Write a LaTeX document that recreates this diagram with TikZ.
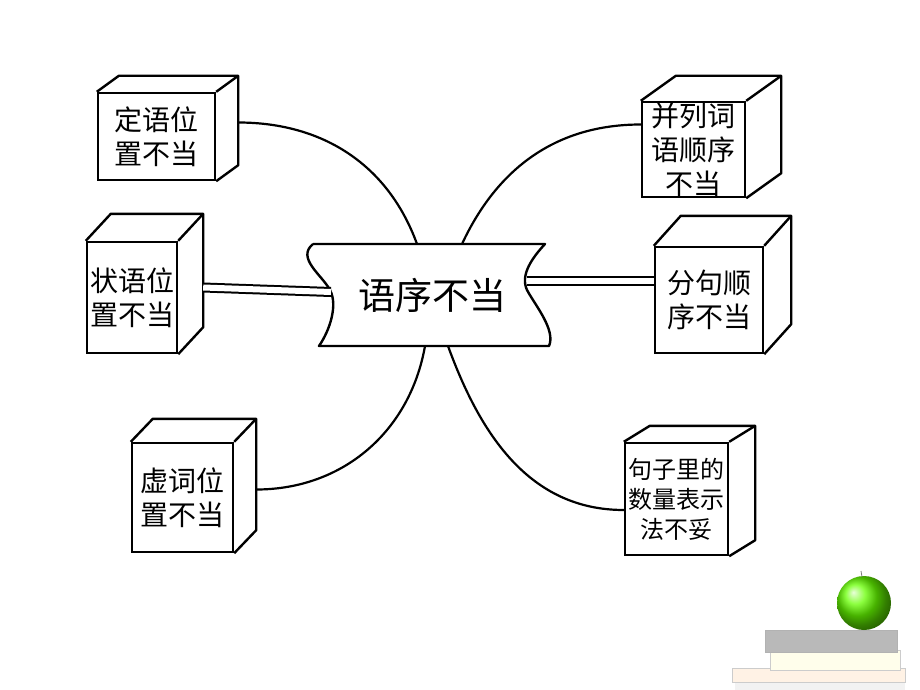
\documentclass[tikz,border=0pt]{standalone}
\usepackage{fontspec}
\newfontfamily\cjk{Noto Sans CJK SC}
\usetikzlibrary{positioning, calc}

\tikzset{
  box/.style = {draw, line width=2.4pt, fill=white, align=center, inner sep=0pt,
                font=\cjk\fontsize{28}{34}\selectfont},
  face/.style = {draw, line width=2.4pt, line join=round},
  link/.style = {line width=2.2pt},
  twin/.style = {draw, double, double distance=6pt, line width=2pt}
}

\begin{document}
\begin{tikzpicture}[x=1pt, y=-1pt]
  \useasboundingbox (0,0) rectangle (920,690);

  % centre
  \draw[face, fill=white] (313,244) -- (545,244)
        .. controls (532,258) and (520,275) .. (527,290)
        .. controls (535,305) and (556,330) .. (549,346)
        -- (319,346)
        .. controls (330,330) and (338,305) .. (330,290)
        .. controls (322,275) and (296,258) .. (313,244);
  \node (main) [font=\cjk\fontsize{37}{40}\selectfont] at (432,295) {语序不当};
  \coordinate (mainNW) at (417,244);
  \coordinate (mainNE) at (462,244);
  \coordinate (mainSW) at (425,346);
  \coordinate (mainSE) at (448,346);
  \coordinate (mainW)  at (331,292);
  \coordinate (mainE)  at (527,281);

  % boxes
  \node (dingyu)  [box, minimum width=117pt, minimum height=87pt]  at (156.5,136.5) {定语位\\置不当};
  \node (zhuangyu)[box, minimum width=90pt,  minimum height=111pt] at (132,297.5)   {状语位\\置不当};
  \node (xuci)    [box, minimum width=101pt, minimum height=109pt] at (182.5,497.5) {虚词位\\置不当};
  \node (binglie) [box, minimum width=103pt, minimum height=95pt]  at (693.5,149.5) {并列词\\语顺序\\不当};
  \node (fenju)   [box, minimum width=108pt, minimum height=106pt] at (709,300)     {分句顺\\序不当};
  \node (shuliang)[box, minimum width=103pt, minimum height=112pt, font=\cjk\fontsize{24}{30}\selectfont]
                  at (676.5,499) {句子里的\\数量表示\\法不妥};

  \foreach \b/\dx/\dy in {dingyu/22/-16, zhuangyu/25/-27, xuci/22/-23,
                          binglie/35/-25, fenju/27/-30, shuliang/26/-16}{
    \draw[face] (\b.north west) -- ++(\dx,\dy) -- ($(\b.north east)+(\dx,\dy)$)
                -- ($(\b.south east)+(\dx,\dy)$) -- (\b.south east);
    \draw[face] (\b.north east) -- ++(\dx,\dy);
  }

  % links
  \draw[link] ($(dingyu.east)+(22,-14)$) to[out=0, in=110] (mainNW);
  \draw[link] (binglie.west) ++(0,-25) to[out=180, in=65] (mainNE);
  \draw[link] ($(xuci.east)+(22,-8)$) to[out=0, in=-100] (mainSW);
  \draw[link] ($(shuliang.west)+(0,11)$) to[out=180, in=-70] (mainSE);
  \draw[twin] ($(zhuangyu.east)+(25,-10)$) -- (mainW);
  \draw[twin] (fenju.west) ++(0,-19) -- (mainE);

  % books and apple
  \draw[fill=gray!10, draw=none] (735,680) rectangle (905,690);
  \draw[fill=orange!10, draw=gray!40] (732,668) rectangle (905,682);
  \draw[fill=yellow!8, draw=gray!40] (770,650) rectangle (900,670);
  \draw[fill=gray!55, draw=gray!60] (765,630) rectangle (897,652);
  \shade[ball color=green!60!yellow] (864,603) circle (27pt);
  \draw[gray, line width=0.8pt] (862,577) -- (861,571);
\end{tikzpicture}
\end{document}
